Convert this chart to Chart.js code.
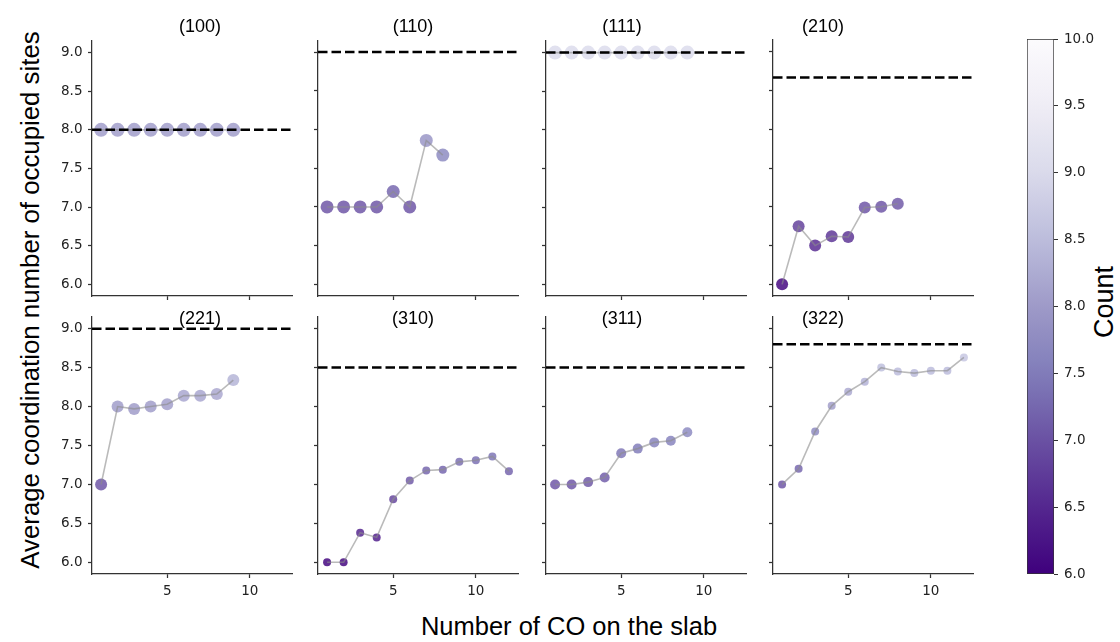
<!DOCTYPE html>
<html>
<head>
<meta charset="utf-8">
<script src="https://cdn.jsdelivr.net/npm/chart.js@4.4.1/dist/chart.umd.min.js"></script>
<style>
	body { margin: 0; background: #fff; }
	#fig { position: relative; width: 1120px; height: 642px; overflow: hidden; font-family: "Liberation Sans", Arial, sans-serif; color: #000; }
	#fig canvas { position: absolute; }
	.lbl { position: absolute; white-space: nowrap; line-height: 1; }
	.facet { font-size: 18px; transform: translate(-50%, -50%); }
	.rot { transform: translate(-50%, -50%) rotate(-90deg); }
</style>
</head>
<body>
<div id="fig">
	<div class="lbl rot" style="left:31px; top:300px; font-size:25.8px;">Average coordination number of occupied sites</div>
	<div class="lbl" style="left:569px; top:627px; font-size:25.5px; transform: translate(-50%, -50%);">Number of CO on the slab</div>
	<div class="lbl rot" style="left:1104px; top:302px; font-size:27px;">Count</div>
</div>
<script>
// facets (surface) and average coordination number vs number of CO
var facets = ['(100)', '(110)', '(111)', '(210)', '(221)', '(310)', '(311)', '(322)'];
var co100 = [8.0, 8.0, 8.0, 8.0, 8.0, 8.0, 8.0, 8.0, 8.0];
var co110 = [7.0, 7.0, 7.0, 7.0, 7.2, 7.0, 7.86, 7.67];
var co111 = [9.0, 9.0, 9.0, 9.0, 9.0, 9.0, 9.0, 9.0, 9.0];
var co210 = [6.0, 6.75, 6.5, 6.62, 6.61, 6.99, 7.0, 7.04];
var co221 = [7.0, 8.0, 7.97, 8.0, 8.03, 8.14, 8.14, 8.16, 8.34];
var co310 = [6.0, 6.0, 6.38, 6.32, 6.81, 7.05, 7.18, 7.19, 7.29, 7.31, 7.36, 7.17];
var co311 = [7.0, 7.0, 7.03, 7.09, 7.4, 7.46, 7.54, 7.56, 7.67];
var co322 = [7.0, 7.2, 7.68, 8.01, 8.19, 8.32, 8.5, 8.45, 8.43, 8.46, 8.46, 8.63];
// clean-slab coordination (dashed lines)
var refLevels = [8.0, 9.0, 9.0, 8.667, 9.0, 8.5, 8.5, 8.8];
var yTicks = [6.0, 6.5, 7.0, 7.5, 8.0, 8.5, 9.0];
var xTicks = [5, 10];
var countTicks = [6.0, 6.5, 7.0, 7.5, 8.0, 8.5, 9.0, 9.5, 10.0];

var series = [co100, co110, co111, co210, co221, co310, co311, co322];

// styling
var markerRadius = [7, 6.5, 7, 6, 6, 4, 5, 4];
var colLeft = [92, 318, 546, 773];
var rowTop = [40, 317];
var rowHeight = [256, 257];
var titleX = [200, 413, 622, 823];
var titleY = [26, 318];
var panelW = 200, padL = 45, padR = 10, padT = 6, padB = 30;
var xMin = 0.45, xMax = 12.55, yMin = 5.85, yMax = 9.15;
var cMin = 6, cMax = 10;
var axisColor = '#333';
var tickFont = { family: 'DejaVu Sans', size: 13.5 };

// matplotlib Purples, reversed so low counts are dark
var purples = ['#fcfbfd', '#efedf5', '#dadaeb', '#bcbddc', '#9e9ac8', '#807dba', '#6a51a3', '#54278f', '#3f007d'];

function hexRgb(h) {
	return [parseInt(h.substr(1, 2), 16), parseInt(h.substr(3, 2), 16), parseInt(h.substr(5, 2), 16)];
}
function countColor(v, alpha) {
	var t = (v - cMin) / (cMax - cMin);
	t = Math.max(0, Math.min(1, t));
	var p = (1 - t) * (purples.length - 1);
	var i = Math.min(Math.floor(p), purples.length - 2);
	var f = p - i;
	var a = hexRgb(purples[i]), b = hexRgb(purples[i + 1]);
	var c = [0, 1, 2].map(function(k){ return Math.round(a[k] + (b[k] - a[k]) * f); });
	return 'rgba(' + c[0] + ',' + c[1] + ',' + c[2] + ',' + alpha + ')';
}
// keep chart area fixed: no extra room for half tick labels
function noPad(scale) {
	scale.paddingTop = 0; scale.paddingBottom = 0;
	scale.paddingLeft = 0; scale.paddingRight = 0;
}

var fig = document.getElementById('fig');

for (var p = 0; p < series.length; p++) {
	var row = Math.floor(p / 4), col = p % 4;
	var ys = series[p];
	var pts = [];
	var colors = [];
	for (var i = 0; i < ys.length; i++) {
		pts.push({ x: i + 1, y: ys[i] });
		colors.push(countColor(ys[i], 0.82));
	}

	var canvas = document.createElement('canvas');
	var cw = padL + panelW + padR, ch = padT + rowHeight[row] + padB;
	canvas.width = cw; canvas.height = ch;
	canvas.style.left = (colLeft[col] - padL) + 'px';
	canvas.style.top = (rowTop[row] - padT) + 'px';
	fig.appendChild(canvas);

	var title = document.createElement('div');
	title.className = 'lbl facet';
	title.style.left = titleX[col] + 'px';
	title.style.top = titleY[row] + 'px';
	title.textContent = facets[p];
	fig.appendChild(title);

	new Chart(canvas, {
		type: 'scatter',
		data: {
			datasets: [
				{
					data: [{ x: xMin, y: refLevels[p] }, { x: xMax, y: refLevels[p] }],
					showLine: true,
					borderColor: '#000',
					borderWidth: 2.5,
					borderDash: [9.5, 4],
					pointRadius: 0,
					order: 1
				},
				{
					data: pts,
					showLine: true,
					borderColor: 'rgba(140,140,140,0.6)',
					borderWidth: 1.6,
					pointRadius: 0,
					order: 2
				},
				{
					data: pts,
					showLine: false,
					pointRadius: markerRadius[p],
					pointBackgroundColor: colors,
					pointBorderWidth: 0,
					order: 3
				}
			]
		},
		options: {
			responsive: false,
			animation: false,
			devicePixelRatio: 1,
			clip: false,
			layout: { padding: { top: padT, right: padR, left: 0, bottom: 0 } },
			plugins: { legend: { display: false }, tooltip: { enabled: false } },
			scales: {
				x: {
					type: 'linear',
					min: xMin, max: xMax,
					afterBuildTicks: function(scale){ scale.ticks = xTicks.map(function(v){ return { value: v }; }); },
					afterFit: function(scale){ scale.height = padB; noPad(scale); },
					ticks: { display: row === 1, font: tickFont, color: '#222', padding: 5, maxRotation: 0 },
					grid: { drawOnChartArea: false, drawTicks: true, tickLength: 4, color: axisColor, tickWidth: 1.25 },
					border: { display: true, color: axisColor, width: 1.25 }
				},
				y: {
					type: 'linear',
					min: yMin, max: yMax,
					afterBuildTicks: function(scale){ scale.ticks = yTicks.map(function(v){ return { value: v }; }); },
					afterFit: function(scale){ scale.width = padL; noPad(scale); },
					ticks: {
						display: col === 0, font: tickFont, color: '#222', padding: 5.5,
						callback: function(v){ return Number(v).toFixed(1); }
					},
					grid: { drawOnChartArea: false, drawTicks: true, tickLength: 4, color: axisColor, tickWidth: 1.25 },
					border: { display: true, color: axisColor, width: 1.25 }
				}
			}
		}
	});
}

// colorbar
var cb = document.createElement('canvas');
cb.width = 7 + 27 + 60; cb.height = 8 + 535 + 8;
cb.style.left = '1020px'; cb.style.top = '31px';
fig.appendChild(cb);

new Chart(cb, {
	type: 'bar',
	data: {
		labels: ['Count'],
		datasets: [{
			data: [[cMin, cMax]],
			barPercentage: 1,
			categoryPercentage: 1,
			borderColor: axisColor,
			borderWidth: 1,
			borderSkipped: false,
			backgroundColor: function(ctx) {
				var chart = ctx.chart, ys = chart.scales.y;
				if (!chart.chartArea || !ys) return purples[4];
				var g = chart.ctx.createLinearGradient(0, ys.getPixelForValue(cMin), 0, ys.getPixelForValue(cMax));
				for (var s = 0; s <= 20; s++) {
					g.addColorStop(s / 20, countColor(cMin + (cMax - cMin) * s / 20, 1));
				}
				return g;
			}
		}]
	},
	options: {
		responsive: false,
		animation: false,
		devicePixelRatio: 1,
		layout: { padding: { top: 8, bottom: 8, left: 7, right: 0 } },
		plugins: { legend: { display: false }, tooltip: { enabled: false } },
		scales: {
			x: { display: false },
			y: {
				position: 'right',
				min: cMin, max: cMax,
				afterBuildTicks: function(scale){ scale.ticks = countTicks.map(function(v){ return { value: v }; }); },
				afterFit: function(scale){ scale.width = 60; noPad(scale); },
				ticks: { font: tickFont, color: '#222', padding: 6, callback: function(v){ return Number(v).toFixed(1); } },
				grid: { drawOnChartArea: false, drawTicks: true, tickLength: 4, color: axisColor },
				border: { display: false }
			}
		}
	}
});
</script>
</body>
</html>
